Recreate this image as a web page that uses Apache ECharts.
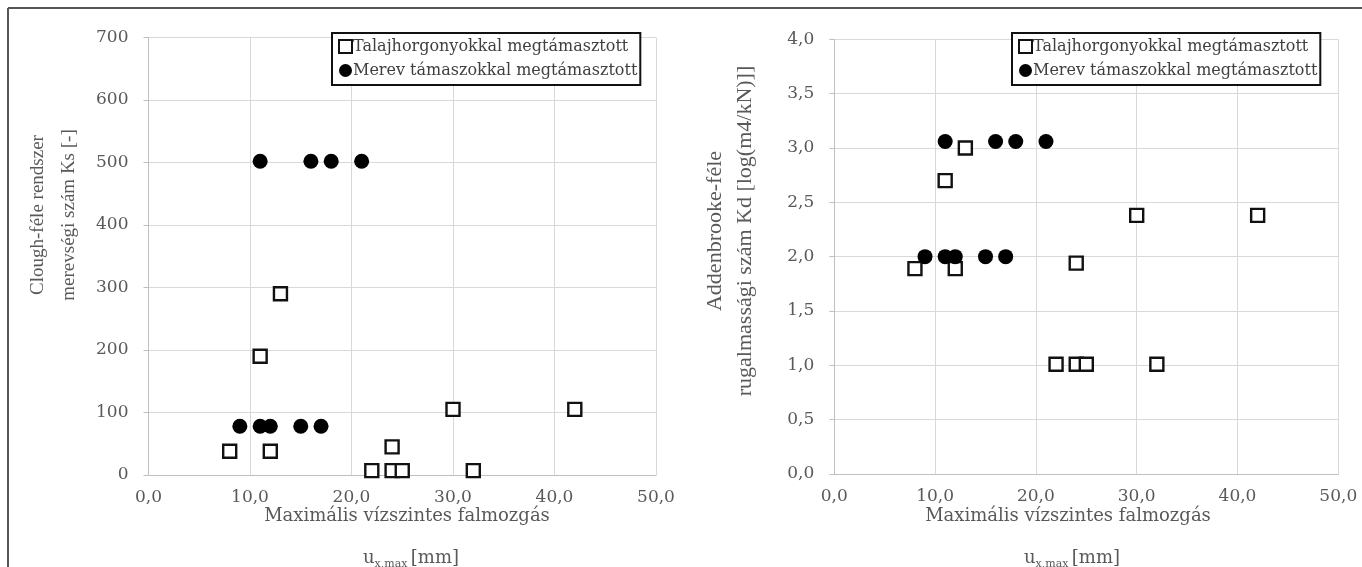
<!DOCTYPE html>
<html>
<head>
<meta charset="utf-8">
<script src="https://cdn.jsdelivr.net/npm/echarts@6/dist/echarts.min.js"></script>
<style>html,body{margin:0;padding:0;background:#fff;}#c{width:1362px;height:567px;}</style>
</head>
<body>
<div id="c"></div>
<script>
// ---- data ----
var seriesNames = ['Talajhorgonyokkal megtámasztott', 'Merev támaszokkal megtámasztott'];
// left chart: Clough Ks
var ksAnchoredX = [13, 11, 30, 42, 8, 12, 24, 22, 24, 25, 32];
var ksAnchoredY = [290, 190, 105, 105, 38, 38, 45, 7, 7, 7, 7];
var ksStrutX = [11, 16, 18, 21, 9, 11, 12, 15, 17];
var ksStrutY = [502, 502, 502, 502, 78, 78, 78, 78, 78];
// right chart: Addenbrooke Kd
var kdAnchoredX = [13, 11, 30, 42, 8, 12, 24, 22, 24, 25, 32];
var kdAnchoredY = [3.0, 2.7, 2.38, 2.38, 1.89, 1.89, 1.94, 1.01, 1.01, 1.01, 1.01];
var kdStrutX = [11, 16, 18, 21, 9, 11, 12, 15, 17];
var kdStrutY = [3.06, 3.06, 3.06, 3.06, 2.0, 2.0, 2.0, 2.0, 2.0];
var xTicks = [0, 10, 20, 30, 40, 50];
var ksTicks = [0, 100, 200, 300, 400, 500, 600, 700];
var kdTicks = [0, 0.5, 1, 1.5, 2, 2.5, 3, 3.5, 4];

function zip(a, b) { return a.map(function (v, i) { return [v, b[i]]; }); }
var hFont = 'DejaVu Serif';
var vFont = 'Liberation Serif';
var labelColor = '#595959';
var gridColor = '#d9d9d9';

function xAxisCfg(idx) {
  return {
    type: 'value', gridIndex: idx, min: xTicks[0], max: xTicks[xTicks.length - 1], interval: 10,
    axisLine: { show: true, lineStyle: { color: '#bfbfbf', width: 1 } },
    axisTick: { show: false },
    splitLine: { show: true, lineStyle: { color: gridColor, width: 1 } },
    axisLabel: { fontFamily: hFont, fontSize: 17, color: labelColor, margin: 14,
      formatter: function (v) { return v.toFixed(1).replace('.', ','); } }
  };
}
function yAxisCfg(idx, ticks, interval, dec) {
  return {
    type: 'value', gridIndex: idx, min: ticks[0], max: ticks[ticks.length - 1], interval: interval,
    axisLine: { show: true, lineStyle: { color: '#bfbfbf', width: 1 } },
    axisTick: { show: true, inside: false, length: 5, lineStyle: { color: '#bfbfbf' } },
    splitLine: { show: true, lineStyle: { color: gridColor, width: 1 } },
    axisLabel: { fontFamily: hFont, fontSize: 17, color: labelColor, margin: 20,
      formatter: function (v) { return dec ? v.toFixed(1).replace('.', ',') : String(v); } }
  };
}
var sqStyle = { color: '#ffffff', borderColor: '#111', borderWidth: 2.4, opacity: 1 };
var ciStyle = { color: '#000000', opacity: 1 };
function sq(x, y, idx) {
  return { name: seriesNames[0], type: 'scatter', xAxisIndex: idx, yAxisIndex: idx, symbol: 'rect',
    symbolSize: 13, itemStyle: sqStyle, data: zip(x, y), z: 3 };
}
function ci(x, y, idx) {
  return { name: seriesNames[1], type: 'scatter', xAxisIndex: idx, yAxisIndex: idx, symbol: 'circle',
    symbolSize: 15, itemStyle: ciStyle, data: zip(x, y), z: 4 };
}
function legendCfg(left) {
  return {
    orient: 'vertical', left: left, top: 33, padding: [5, 3, 6, 6],
    itemWidth: 13, itemHeight: 13, itemGap: 7,
    borderColor: '#111', borderWidth: 2, backgroundColor: '#fff', selectedMode: false,
    textStyle: { fontFamily: hFont, fontSize: 16, color: '#404040', width: 281, overflow: 'none', lineHeight: 17, padding: [0, 0, 0, -4] },
    data: [
      { name: seriesNames[0], icon: 'rect', itemStyle: { color: '#fff', borderColor: '#111', borderWidth: 2 } },
      { name: seriesNames[1], icon: 'circle', itemStyle: { color: '#000' } }
    ]
  };
}
function xTitle(cx) {
  return [
    { type: 'text', style: { text: 'Maximális vízszintes falmozgás', x: cx, y: 516,
      align: 'center', verticalAlign: 'middle', font: '18px "' + hFont + '"', fill: labelColor } },
    { type: 'text', style: { text: '{a|u}{b|x,max} {a|[mm]}', x: cx + 4, y: 558, align: 'center', verticalAlign: 'middle',
      fill: labelColor, rich: { a: { fontFamily: hFont, fontSize: 18, color: labelColor },
        b: { fontFamily: hFont, fontSize: 11, color: labelColor, padding: [12, 0, 0, 0] } } } }
  ];
}
var chart = echarts.init(document.getElementById('c'), null, { renderer: 'canvas' });
var graphics = [
  { type: 'line', shape: { x1: 8, y1: 8, x2: 1362, y2: 8 }, style: { stroke: '#555', lineWidth: 2 } },
  { type: 'line', shape: { x1: 8, y1: 8, x2: 8, y2: 567 }, style: { stroke: '#555', lineWidth: 2 } },
  { type: 'text', x: 54, y: 215, rotation: Math.PI / 2, style: { text: 'Clough-féle rendszer\nmerevségi szám Ks [-]',
    x: 0, y: 0, align: 'center', verticalAlign: 'middle', lineHeight: 31, font: '19px "' + vFont + '"', fill: labelColor } },
  { type: 'text', x: 730, y: 231, rotation: Math.PI / 2, style: { text: 'Addenbrooke-féle\nrugalmassági szám Kd [log(m4/kN)]]',
    x: 0, y: 0, align: 'center', verticalAlign: 'middle', lineHeight: 30, font: '22px "' + vFont + '"', fill: labelColor } }
].concat(xTitle(407)).concat(xTitle(1068));

chart.setOption({
  animation: false,
  backgroundColor: '#fff',
  grid: [
    { left: 148.5, top: 37.5, width: 507.5, height: 437.5 },
    { left: 834.3, top: 39.3, width: 504, height: 434.7 }
  ],
  xAxis: [xAxisCfg(0), xAxisCfg(1)],
  yAxis: [yAxisCfg(0, ksTicks, 100, false), yAxisCfg(1, kdTicks, 0.5, true)],
  legend: [legendCfg(332), legendCfg(1012)],
  series: [
    sq(ksAnchoredX, ksAnchoredY, 0), ci(ksStrutX, ksStrutY, 0),
    sq(kdAnchoredX, kdAnchoredY, 1), ci(kdStrutX, kdStrutY, 1)
  ],
  graphic: graphics
});
</script>
</body>
</html>
